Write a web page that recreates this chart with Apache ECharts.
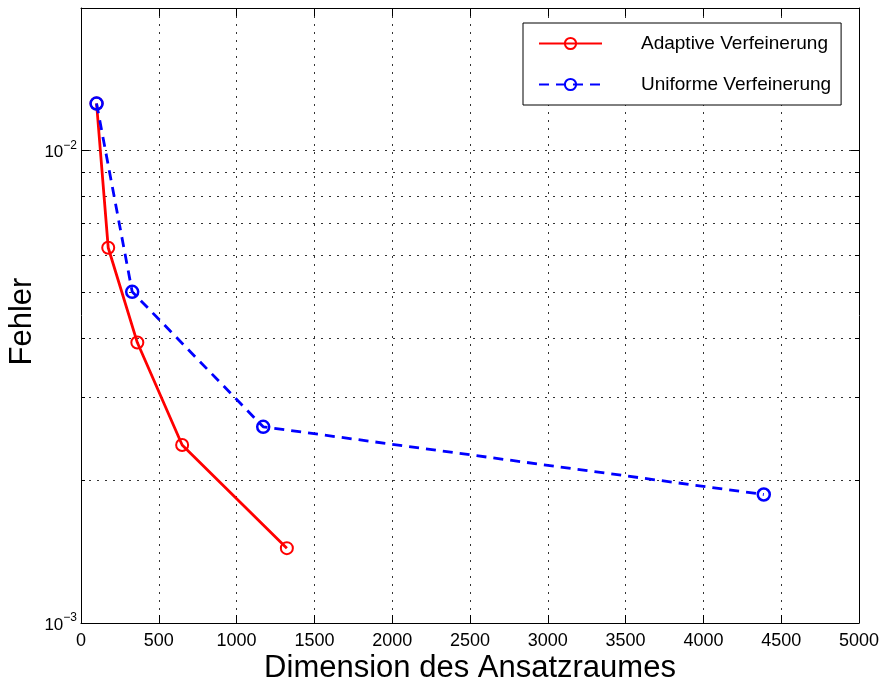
<!DOCTYPE html>
<html>
<head>
<meta charset="utf-8">
<script src="https://cdn.jsdelivr.net/npm/echarts@6/dist/echarts.min.js"></script>
<style>html,body{margin:0;padding:0;background:#fff}#c{width:884px;height:683px}</style>
</head>
<body>
<div id="c"></div>
<script>
// Data
var adaptiveX = [100, 175, 362, 650, 1323];
var adaptiveY = [0.01256, 0.00622, 0.00392, 0.00238, 0.00144];
var uniformX = [100, 329, 1171, 4388];
var uniformY = [0.01256, 0.00502, 0.00260, 0.00187];
var seriesNames = ['Adaptive Verfeinerung', 'Uniforme Verfeinerung'];
var xTitle = 'Dimension des Ansatzraumes';
var yTitle = 'Fehler';
var yMajorTicks = [0.001, 0.01];
var yMinorTicks = [0.002, 0.003, 0.004, 0.005, 0.006, 0.007, 0.008, 0.009, 0.02];

var FONT = 'Liberation Sans, Arial, sans-serif';
var GRID_STYLE = { color: '#333', width: 1, type: [2, 6] };
function pairs(xs, ys) { return xs.map(function (x, i) { return [x, ys[i]]; }); }
function supLabel(v) {
  var e = Math.round(Math.log10(v));
  return '{b|10}{s|' + (e < 0 ? '\u2212' + (-e) : e) + '}';
}
var yBase = { type: 'log', logBase: 10, min: 0.001, max: 0.02 };
function yAxisDef(pos, ticks, len, showLine, showLabel, showGrid) {
  return Object.assign({}, yBase, {
    position: pos,
    axisLine: { show: showLine, lineStyle: { color: '#000', width: 1 } },
    axisTick: { show: true, inside: true, length: len, customValues: ticks, lineStyle: { color: '#000', width: 1 } },
    axisLabel: showLabel ? {
      show: true, customValues: yMajorTicks, margin: 4, formatter: supLabel,
      rich: {
        b: { fontSize: 17, fontFamily: FONT, color: '#000', lineHeight: 22, verticalAlign: 'bottom' },
        s: { fontSize: 12, fontFamily: FONT, color: '#000', lineHeight: 22, verticalAlign: 'top', padding: [0, 0, 4, 0] }
      }
    } : { show: false },
    splitLine: { show: showGrid, lineStyle: GRID_STYLE },
    minorTick: { show: false },
    minorSplitLine: { show: false }
  });
}

var chart = echarts.init(document.getElementById('c'), null, { renderer: 'canvas' });
chart.setOption({
  animation: false,
  backgroundColor: '#fff',
  grid: { left: 81, right: 25, top: 8, bottom: 60, containLabel: false, outerBoundsMode: 'none' },
  legend: {
    orient: 'vertical', left: 523, top: 23,
    backgroundColor: '#fff', borderColor: '#000', borderWidth: 1, borderRadius: 0,
    padding: [11, 10, 11, 15], itemGap: 22, itemWidth: 63, itemHeight: 14,
    data: seriesNames,
    formatter: function (n) { return '{p|' + n + '}'; },
    textStyle: { color: '#000', fontSize: 19, fontFamily: FONT,
      rich: { p: { color: '#000', fontSize: 19, fontFamily: FONT, padding: [0, 0, 0, 34] } } }
  },
  xAxis: [{
    type: 'value', min: 0, max: 5000, interval: 500, position: 'bottom',
    name: xTitle, nameLocation: 'middle', nameGap: 30, nameMoveOverlap: false,
    nameTextStyle: { fontSize: 31, fontFamily: FONT, color: '#000' },
    axisLine: { show: true, onZero: false, lineStyle: { color: '#000', width: 1 } },
    axisTick: { show: true, inside: true, length: 8, lineStyle: { color: '#000' } },
    axisLabel: { show: true, margin: 9, fontSize: 18, fontFamily: FONT, color: '#000',
      formatter: function (v) { return String(v); } },
    splitLine: { show: true, lineStyle: GRID_STYLE }
  }, {
    type: 'value', min: 0, max: 5000, interval: 500, position: 'top',
    axisLine: { show: true, onZero: false, lineStyle: { color: '#000', width: 1 } },
    axisTick: { show: true, inside: true, length: 8, lineStyle: { color: '#000' } },
    axisLabel: { show: false },
    splitLine: { show: false }
  }],
  yAxis: [
    Object.assign(yAxisDef('left', yMajorTicks, 8, true, true, true), {
      name: yTitle, nameLocation: 'middle', nameGap: 43, nameRotate: 90, nameMoveOverlap: false,
      nameTextStyle: { fontSize: 31, fontFamily: FONT, color: '#000', padding: [0, 12, 0, 0] }
    }),
    yAxisDef('left', yMinorTicks, 4, false, false, true),
    yAxisDef('right', yMajorTicks, 8, true, false, false),
    yAxisDef('right', yMinorTicks, 4, false, false, false)
  ],
  series: [{
    type: 'line', name: seriesNames[0], data: pairs(adaptiveX, adaptiveY),
    xAxisIndex: 0, yAxisIndex: 0, z: 3,
    symbol: 'circle', symbolSize: 12,
    lineStyle: { color: '#ff0000', width: 2.8, type: 'solid' },
    itemStyle: { color: 'rgba(255,255,255,0)', borderColor: '#ff0000', borderWidth: 2 }
  }, {
    type: 'line', name: seriesNames[1], data: pairs(uniformX, uniformY),
    xAxisIndex: 0, yAxisIndex: 0, z: 4,
    symbol: 'circle', symbolSize: 12,
    lineStyle: { color: '#0000ff', width: 2.8, type: [10, 7] },
    itemStyle: { color: 'rgba(255,255,255,0)', borderColor: '#0000ff', borderWidth: 2.5 }
  }]
});
</script>
</body>
</html>
